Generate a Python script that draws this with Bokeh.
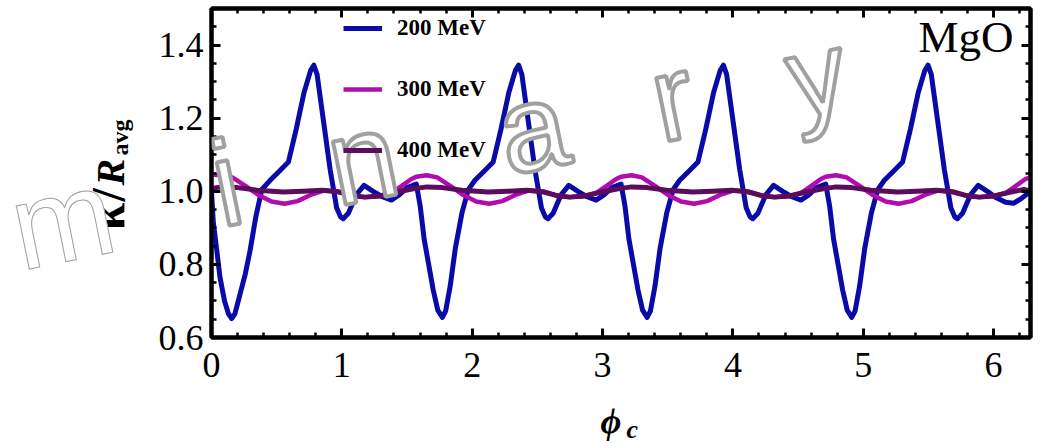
import math
from bokeh.plotting import figure
from bokeh.layouts import column, row
from bokeh.models import (Range1d, LinearAxis, SingleIntervalTicker, PrintfTickFormatter,
                          Label, Legend, LegendItem)
from bokeh.embed import file_html
from bokeh.resources import INLINE

# ---------------- data ----------------
x_200 = [0.000, 0.014, 0.040, 0.065, 0.100, 0.130, 0.155, 0.180, 0.220, 0.260, 0.296, 0.340, 0.386,
         0.450, 0.520, 0.590, 0.650, 0.710, 0.760, 0.785, 0.810, 0.860, 0.910, 0.960, 0.990, 1.010,
         1.050, 1.110, 1.170, 1.240, 1.310, 1.380, 1.440, 1.500,
         1.571, 1.601, 1.631, 1.671, 1.701, 1.736, 1.771, 1.796, 1.831, 1.871, 1.921, 1.971, 2.021,
         2.091, 2.161, 2.221, 2.281, 2.331, 2.356, 2.381, 2.431, 2.481, 2.531, 2.561, 2.581, 2.621,
         2.681, 2.741, 2.811, 2.881, 2.951, 3.011, 3.071,
         3.142, 3.172, 3.202, 3.242, 3.272, 3.307, 3.342, 3.367, 3.402, 3.442, 3.492, 3.542, 3.592,
         3.662, 3.732, 3.792, 3.852, 3.902, 3.927, 3.952, 4.002, 4.052, 4.102, 4.132, 4.152, 4.192,
         4.252, 4.312, 4.382, 4.452, 4.522, 4.582, 4.642,
         4.712, 4.742, 4.772, 4.812, 4.842, 4.877, 4.912, 4.937, 4.972, 5.012, 5.062, 5.112, 5.162,
         5.232, 5.302, 5.362, 5.422, 5.472, 5.497, 5.522, 5.572, 5.622, 5.672, 5.702, 5.722, 5.762,
         5.822, 5.882, 5.952, 6.022, 6.092, 6.152, 6.212, 6.283]
y_200 = [1.000, 0.915, 0.840, 0.765, 0.700, 0.665, 0.652, 0.665, 0.720, 0.775, 0.838, 0.930, 1.005,
         1.030, 1.055, 1.080, 1.170, 1.270, 1.330, 1.345, 1.320, 1.190, 1.060, 0.955, 0.930, 0.925,
         0.940, 0.990, 1.016, 1.000, 0.985, 0.976, 0.990, 1.010,
         1.020, 0.960, 0.870, 0.790, 0.730, 0.675, 0.655, 0.672, 0.740, 0.845, 0.940, 1.005, 1.030,
         1.055, 1.080, 1.170, 1.270, 1.330, 1.345, 1.320, 1.190, 1.060, 0.955, 0.930, 0.925, 0.940,
         0.990, 1.016, 1.000, 0.985, 0.976, 0.990, 1.010,
         1.020, 0.960, 0.870, 0.790, 0.730, 0.675, 0.655, 0.672, 0.740, 0.845, 0.940, 1.005, 1.030,
         1.055, 1.080, 1.170, 1.270, 1.330, 1.345, 1.320, 1.190, 1.060, 0.955, 0.930, 0.925, 0.940,
         0.990, 1.016, 1.000, 0.985, 0.976, 0.990, 1.010,
         1.020, 0.960, 0.870, 0.790, 0.730, 0.675, 0.655, 0.672, 0.740, 0.845, 0.940, 1.005, 1.030,
         1.055, 1.080, 1.170, 1.270, 1.330, 1.345, 1.320, 1.190, 1.060, 0.955, 0.930, 0.925, 0.940,
         0.990, 1.016, 1.000, 0.982, 0.970, 0.967, 0.980, 1.000]

x_300 = [0.000, 0.080, 0.160, 0.260, 0.360, 0.460, 0.560, 0.660, 0.760, 0.860, 0.960, 1.060, 1.170,
         1.280, 1.380, 1.460, 1.530,
         1.571, 1.651, 1.731, 1.831, 1.931, 2.031, 2.131, 2.231, 2.331, 2.431, 2.531, 2.631, 2.741,
         2.851, 2.951, 3.031, 3.101,
         3.142, 3.222, 3.302, 3.402, 3.502, 3.602, 3.702, 3.802, 3.902, 4.002, 4.102, 4.202, 4.312,
         4.422, 4.522, 4.602, 4.672,
         4.712, 4.792, 4.872, 4.972, 5.072, 5.172, 5.272, 5.372, 5.472, 5.572, 5.672, 5.772, 5.882,
         5.992, 6.092, 6.172, 6.242, 6.283]
y_300 = [1.046, 1.044, 1.038, 1.015, 0.990, 0.972, 0.966, 0.973, 0.990, 1.002, 1.000, 0.990, 0.984,
         0.986, 0.995, 1.015, 1.033,
         1.040, 1.044, 1.038, 1.015, 0.990, 0.972, 0.966, 0.973, 0.990, 1.002, 1.000, 0.990, 0.984,
         0.986, 0.995, 1.015, 1.033,
         1.040, 1.044, 1.038, 1.015, 0.990, 0.972, 0.966, 0.973, 0.990, 1.002, 1.000, 0.990, 0.984,
         0.986, 0.995, 1.015, 1.033,
         1.040, 1.044, 1.038, 1.015, 0.990, 0.972, 0.966, 0.973, 0.990, 1.002, 1.000, 0.990, 0.984,
         0.986, 0.995, 1.015, 1.033, 1.038]

x_400 = [0.000, 0.080, 0.200, 0.350, 0.550, 0.700, 0.850, 0.980, 1.080, 1.180, 1.300, 1.420, 1.520,
         1.571, 1.651, 1.771, 1.921, 2.121, 2.271, 2.421, 2.551, 2.651, 2.751, 2.871, 2.991, 3.091,
         3.142, 3.222, 3.342, 3.492, 3.692, 3.842, 3.992, 4.122, 4.222, 4.322, 4.442, 4.562, 4.662,
         4.712, 4.792, 4.912, 5.062, 5.262, 5.412, 5.562, 5.692, 5.792, 5.892, 6.012, 6.132, 6.232,
         6.283]
y_400 = [1.008, 1.012, 1.010, 1.003, 0.998, 1.000, 1.003, 0.998, 0.988, 0.984, 0.988, 0.998, 1.005,
         1.008, 1.012, 1.010, 1.003, 0.998, 1.000, 1.003, 0.998, 0.988, 0.984, 0.988, 0.998, 1.005,
         1.008, 1.012, 1.010, 1.003, 0.998, 1.000, 1.003, 0.998, 0.988, 0.984, 0.988, 0.998, 1.005,
         1.008, 1.012, 1.010, 1.003, 0.998, 1.000, 1.003, 0.998, 0.988, 0.984, 0.988, 0.998, 1.005,
         1.000]

series_labels = ["200 MeV", "300 MeV", "400 MeV"]
series_colors = ["#0a0aa8", "#b00cb0", "#5c0c5c"]
x_ticks_interval = 1
y_ticks_interval = 0.2
watermark_letters = ["m", "i", "n", "a", "r", "y"]

SERIF = "Liberation Serif"
LEFT_W = 140      # width of the strip holding the y-axis title
MAIN_H = 390      # height of the main figure
TOTAL_W, TOTAL_H = 1041, 443
FRAME_LEFT = LEFT_W + 71
FRAME_BOTTOM = MAIN_H - 53   # frames of the row are aligned, so this holds for both

# ---------------- main figure ----------------
p = figure(width=TOTAL_W - LEFT_W, height=MAIN_H, output_backend="svg", toolbar_location=None,
           x_range=Range1d(0, 2 * math.pi), y_range=Range1d(0.6, 1.5),
           min_border_left=71, min_border_right=11, min_border_top=8, min_border_bottom=53)
p.xgrid.visible = False
p.ygrid.visible = False
p.outline_line_color = "black"
p.outline_line_width = 4
p.background_fill_color = "white"
p.border_fill_color = "white"


def style_axis(ax, show_labels, standoff=8):
    ax.axis_line_width = 4
    ax.axis_line_color = "black"
    ax.major_tick_in = 9
    ax.major_tick_out = 0
    ax.minor_tick_in = 5
    ax.minor_tick_out = 0
    ax.major_tick_line_width = 3
    ax.minor_tick_line_width = 2.5
    ax.major_tick_line_color = "black"
    ax.minor_tick_line_color = "black"
    if show_labels:
        ax.major_label_text_font = SERIF
        ax.major_label_text_font_size = "36px"
        ax.major_label_text_color = "black"
        ax.major_label_standoff = standoff
    else:
        ax.major_label_text_font_size = "0px"
        ax.major_label_standoff = 0
        ax.major_label_text_color = None


xb = p.xaxis[0]
xb.ticker = SingleIntervalTicker(interval=x_ticks_interval, num_minor_ticks=5)
xb.formatter = PrintfTickFormatter(format="%d")
style_axis(xb, True, standoff=15)

yl = p.yaxis[0]
yl.ticker = SingleIntervalTicker(interval=y_ticks_interval, num_minor_ticks=4)
yl.formatter = PrintfTickFormatter(format="%.1f")
style_axis(yl, True, standoff=8)

xt = LinearAxis(ticker=SingleIntervalTicker(interval=x_ticks_interval, num_minor_ticks=5))
style_axis(xt, False)
p.add_layout(xt, "above")
yr = LinearAxis(ticker=SingleIntervalTicker(interval=y_ticks_interval, num_minor_ticks=4))
style_axis(yr, False)
p.add_layout(yr, "right")

# ---------------- lines ----------------
r200 = p.line(x_200, y_200, line_color=series_colors[0], line_width=5, line_join="round")
r300 = p.line(x_300, y_300, line_color=series_colors[1], line_width=4.5, line_join="round")
r400 = p.line(x_400, y_400, line_color=series_colors[2], line_width=5, line_join="round")

# ---------------- watermark (outlined letters) ----------------
wm_page_x = [62, 226, 362, 532, 672, 816]
wm_page_y = [219, 183, 158, 127, 97, 74]
wm_sizes = ["122px", "122px", "122px", "122px", "122px", "116px"]


def add_wm(fig, ch, sx, sy, size):
    fig.add_layout(Label(x=sx, y=sy, x_units="screen", y_units="screen", text=ch,
                         angle=0.2, text_align="center", text_baseline="alphabetic",
                         text_font="Liberation Sans", text_font_size=size,
                         text_color="white", text_outline_color="#a0a0a0"))


# ---------------- texts in the main frame ----------------
p.add_layout(Label(x=1013 - FRAME_LEFT, y=FRAME_BOTTOM - 36, x_units="screen", y_units="screen",
                   text="MgO", text_align="right", text_baseline="alphabetic",
                   text_font=SERIF, text_font_size="45px", text_color="black"))

for ch, px, py, sz in zip(watermark_letters[1:], wm_page_x[1:], wm_page_y[1:], wm_sizes[1:]):
    add_wm(p, ch, px - FRAME_LEFT, FRAME_BOTTOM - py, sz)

# ---------------- legend ----------------
legend = Legend(items=[LegendItem(label=series_labels[0], renderers=[r200]),
                       LegendItem(label=series_labels[1], renderers=[r300]),
                       LegendItem(label=series_labels[2], renderers=[r400])],
                location=(132, 174), orientation="vertical",
                label_text_font=SERIF, label_text_font_style="bold",
                label_text_font_size="23px", label_text_color="black",
                glyph_width=39, glyph_height=24, label_height=24, spacing=35,
                label_standoff=15, padding=0, margin=0,
                border_line_color=None, background_fill_alpha=0)
p.add_layout(legend)

# ---------------- left strip: y-axis title + first watermark letter ----------------
left = figure(width=LEFT_W, height=MAIN_H, output_backend="svg", toolbar_location=None,
              x_range=Range1d(0, 1), y_range=Range1d(0, 1),
              x_axis_location=None, y_axis_location=None, min_border=0,
              outline_line_color=None)
left.xgrid.visible = False
left.ygrid.visible = False
left.border_fill_color = "white"
left.background_fill_color = "white"

# pieces: text, page x of anchor, page y of start, style, size
ylab = [("κ", 106, 230, "bold", "50px"), ("/", 108, 201, "bold", "48px"),
        ("R", 110, 185, "bold italic", "40px"), ("avg", 119, 155, "bold", "24px")]
for t, px, py, st, sz in ylab:
    left.add_layout(Label(x=px, y=FRAME_BOTTOM - py, x_units="screen", y_units="screen", text=t,
                          angle=math.pi / 2, text_align="left", text_baseline="alphabetic",
                          text_font=SERIF, text_font_style=st, text_font_size=sz,
                          text_color="black"))
add_wm(left, watermark_letters[0], wm_page_x[0], FRAME_BOTTOM - wm_page_y[0], wm_sizes[0])

# ---------------- bottom strip: x-axis title ----------------
BOT_H = TOTAL_H - MAIN_H
bottom = figure(width=TOTAL_W, height=BOT_H, output_backend="svg", toolbar_location=None,
                x_range=Range1d(0, 1), y_range=Range1d(0, 1),
                x_axis_location=None, y_axis_location=None, min_border=0,
                outline_line_color=None)
bottom.xgrid.visible = False
bottom.ygrid.visible = False
bottom.border_fill_color = "white"
bottom.background_fill_color = "white"
bottom.add_layout(Label(x=600, y=TOTAL_H - 420, x_units="screen", y_units="screen", text="ϕ",
                        text_align="left", text_baseline="alphabetic", text_font=SERIF,
                        text_font_style="bold italic", text_font_size="36px", text_color="black"))
bottom.add_layout(Label(x=626, y=TOTAL_H - 429, x_units="screen", y_units="screen", text="c",
                        text_align="left", text_baseline="alphabetic", text_font=SERIF,
                        text_font_style="bold italic", text_font_size="26px", text_color="black"))

layout = column(row(left, p, spacing=0), bottom, spacing=0)
open("out.html", "w").write(file_html(layout, INLINE))
